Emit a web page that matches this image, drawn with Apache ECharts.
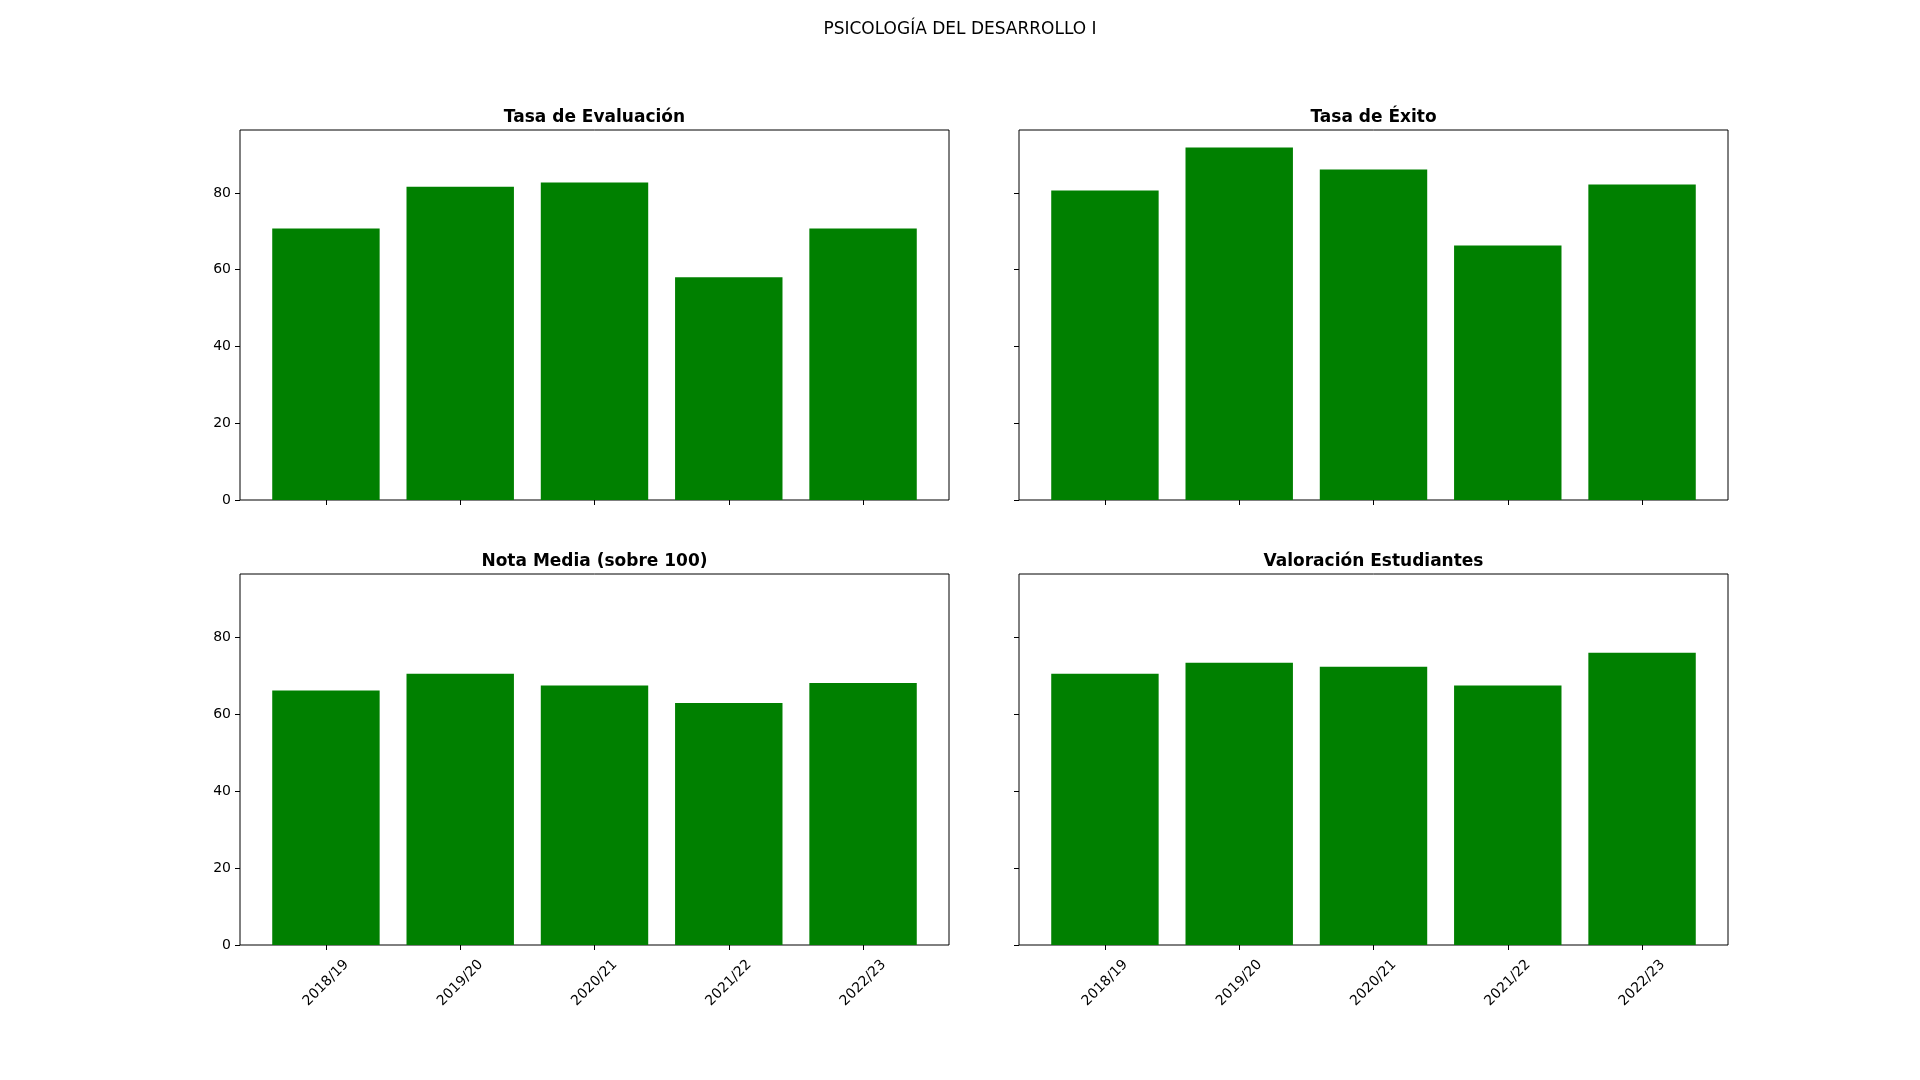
<!DOCTYPE html>
<html>
<head>
<meta charset="utf-8">
<script src="https://cdn.jsdelivr.net/npm/echarts@6/dist/echarts.min.js"></script>
<style>
html,body{margin:0;padding:0;background:#fff;}
#chart{width:1920px;height:1080px;}
</style>
</head>
<body>
<div id="chart"></div>
<script>
// ---- data ----
const categories = ['2018/19', '2019/20', '2020/21', '2021/22', '2022/23'];
const tasaEvaluacion = [70.7, 81.6, 82.7, 58.0, 70.7];
const tasaExito = [80.6, 91.8, 86.1, 66.3, 82.2];
const notaMedia = [66.1, 70.5, 67.4, 62.9, 68.1];
const valoracionEstudiantes = [70.5, 73.3, 72.3, 67.4, 75.9];
const yTicks = [0, 20, 40, 60, 80];
const panelTitles = ['Tasa de Evaluación', 'Tasa de Éxito', 'Nota Media (sobre 100)', 'Valoración Estudiantes'];
const figureTitle = 'PSICOLOGÍA DEL DESARROLLO I';

// ---- layout ----
const FONT = 'DejaVu Sans';
const panels = [
  {left: 240, top: 130, width: 709, height: 370, showY: true, showX: false, vals: tasaEvaluacion},
  {left: 1019, top: 130, width: 709, height: 370, showY: false, showX: false, vals: tasaExito},
  {left: 240, top: 574, width: 709, height: 371, showY: true, showX: true, vals: notaMedia},
  {left: 1019, top: 574, width: 709, height: 371, showY: false, showX: true, vals: valoracionEstudiantes}
];
const allVals = [].concat(tasaEvaluacion, tasaExito, notaMedia, valoracionEstudiantes);
const yMax = Math.max.apply(null, allVals) * 1.05;
const n = categories.length;
const xMin = -0.4 - 0.05 * (n - 1 + 0.8);
const xMax = n - 1 + 0.4 + 0.05 * (n - 1 + 0.8);
const catIdx = categories.map((c, i) => i);

const chart = echarts.init(document.getElementById('chart'), null, {renderer: 'canvas'});

const option = {
  animation: false,
  backgroundColor: '#ffffff',
  title: [{
    text: figureTitle, left: 960, top: 21, textAlign: 'center', padding: 0,
    textStyle: {fontFamily: FONT, fontSize: 17, fontWeight: 'normal', color: '#000'}
  }].concat(panels.map((p, i) => ({
    text: panelTitles[i], left: p.left + p.width / 2, top: p.top - 21, textAlign: 'center', padding: 0,
    textStyle: {fontFamily: FONT, fontSize: 17, fontWeight: 'bold', color: '#000'}
  }))),
  grid: panels.map(p => ({
    left: p.left, top: p.top, width: p.width, height: p.height,
    show: true, borderColor: '#000', borderWidth: 1, backgroundColor: 'transparent',
    containLabel: false
  })),
  xAxis: panels.map((p, i) => ({
    type: 'value', gridIndex: i, min: xMin, max: xMax,
    axisLine: {show: false, onZero: false},
    splitLine: {show: false},
    axisTick: {show: true, length: 5, inside: false, customValues: catIdx, lineStyle: {color: '#000', width: 1}},
    axisLabel: {
      show: p.showX, customValues: catIdx, rotate: 45, align: 'center', verticalAlign: 'middle',
      margin: 38, fontFamily: FONT, fontSize: 14, color: '#000',
      formatter: v => categories[Math.round(v)] || ''
    }
  })),
  yAxis: panels.map((p, i) => ({
    type: 'value', gridIndex: i, min: 0, max: yMax,
    axisLine: {show: false, onZero: false},
    splitLine: {show: false},
    axisTick: {show: true, length: 5, inside: false, customValues: yTicks, lineStyle: {color: '#000', width: 1}},
    axisLabel: {
      show: p.showY, customValues: yTicks, margin: 9, fontFamily: FONT, fontSize: 14, color: '#000'
    }
  })),
  series: panels.map((p, i) => ({
    type: 'bar', xAxisIndex: i, yAxisIndex: i,
    barWidth: '80%',
    itemStyle: {color: '#008000'},
    data: catIdx.map(k => [k, p.vals[k]])
  }))
};
chart.setOption(option);
</script>
</body>
</html>
